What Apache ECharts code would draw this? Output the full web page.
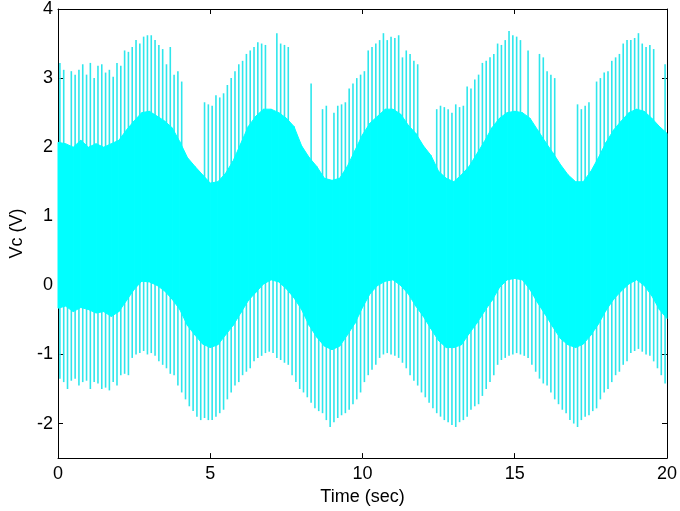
<!DOCTYPE html>
<html>
<head>
<meta charset="utf-8">
<script src="https://cdn.jsdelivr.net/npm/echarts@6/dist/echarts.min.js"></script>
<style>html,body{margin:0;padding:0;background:#fff}#c{width:680px;height:511px}</style>
</head>
<body>
<div id="c"></div>
<script>
// Dense oscillation band: upper/lower edges sampled every 0.25 s (t = 0 .. 20)
const bandStep = 0.25;
const bandHi = [2.07,2.05,2.00,2.10,2.00,2.05,2.00,2.05,2.10,2.25,2.38,2.50,2.52,2.45,2.38,2.28,
  2.08,1.85,1.72,1.60,1.48,1.50,1.62,1.80,2.05,2.30,2.45,2.55,2.55,2.50,2.42,2.30,
  2.02,1.85,1.72,1.55,1.52,1.55,1.72,1.95,2.18,2.35,2.45,2.55,2.55,2.48,2.32,2.20,
  2.02,1.88,1.65,1.55,1.50,1.60,1.72,1.90,2.08,2.28,2.42,2.50,2.52,2.50,2.42,2.25,
  2.08,1.92,1.75,1.60,1.50,1.50,1.65,1.85,2.07,2.25,2.38,2.50,2.55,2.52,2.42,2.30,2.20];
const bandLo = [-0.33,-0.30,-0.38,-0.32,-0.35,-0.40,-0.38,-0.45,-0.38,-0.22,-0.06,0.06,0.05,0.00,-0.08,-0.20,
  -0.35,-0.58,-0.72,-0.85,-0.90,-0.86,-0.72,-0.58,-0.40,-0.22,-0.10,0.02,0.08,0.05,-0.05,-0.18,
  -0.35,-0.58,-0.75,-0.88,-0.93,-0.88,-0.72,-0.55,-0.32,-0.12,0.00,0.06,0.08,0.00,-0.12,-0.30,
  -0.45,-0.63,-0.80,-0.90,-0.90,-0.86,-0.70,-0.55,-0.38,-0.22,-0.03,0.08,0.10,0.08,-0.06,-0.25,
  -0.42,-0.60,-0.77,-0.86,-0.90,-0.85,-0.72,-0.56,-0.36,-0.20,-0.08,0.02,0.08,0.00,-0.15,-0.35,-0.48];

// Spikes: one slot every 1/8 s (centre of slot), null = no spike in that slot
const spikeSlotsPerSec = 8;
const upperSpikes = [
  3.22,3.12,null,3.10,3.05,3.12,3.20,3.05,
  3.22,3.00,3.18,3.20,3.08,3.12,3.02,3.22,
  3.18,3.40,3.38,3.45,3.55,3.50,3.60,3.62,
  3.62,3.55,3.48,3.42,3.20,3.45,3.05,3.10,
  2.95,null,null,null,null,null,2.65,2.62,
  2.60,2.75,2.72,2.78,2.90,3.00,3.10,3.20,
  3.25,3.35,3.40,3.45,3.52,3.50,3.48,null,
  null,3.65,3.50,3.48,3.45,null,null,null,
  null,null,2.92,null,null,2.55,2.60,null,
  2.50,2.60,2.62,2.65,2.85,2.92,3.00,3.05,
  3.10,3.40,3.45,3.50,3.55,3.65,3.55,3.60,
  3.58,3.62,3.30,3.40,3.35,3.25,3.20,null,
  null,null,null,2.55,2.60,2.58,2.55,2.50,
  2.62,2.58,2.60,2.88,2.85,2.98,3.05,3.22,
  3.25,3.30,3.35,3.50,3.48,3.55,3.68,3.62,
  3.60,3.55,null,3.40,null,null,3.35,3.30,
  3.10,3.05,3.00,null,null,null,null,null,
  2.62,2.55,2.60,2.65,null,2.95,3.00,3.08,
  3.10,3.25,3.30,3.35,3.50,3.55,3.55,3.58,
  3.65,3.50,3.45,3.48,3.42,null,null,3.20];
const lowerSpikes = [
  -1.35,-1.40,-1.50,-1.38,-1.35,-1.45,-1.40,-1.38,
  -1.50,-1.40,-1.42,-1.50,-1.48,-1.52,-1.40,-1.45,
  -1.30,-1.28,-1.30,-1.05,-1.00,-0.98,-0.95,-1.00,
  -0.98,-1.02,-1.10,-1.15,-1.20,-1.28,-1.30,-1.45,
  -1.55,-1.65,-1.75,-1.82,-1.90,-1.95,-1.92,-1.95,
  -1.95,-1.90,-1.85,-1.80,-1.65,-1.55,-1.45,-1.40,
  -1.30,-1.25,-1.20,-1.10,-1.05,-1.02,-0.98,-0.96,
  -0.98,-1.05,-1.08,-1.12,-1.15,-1.30,-1.40,-1.50,
  -1.55,-1.62,-1.70,-1.78,-1.82,-1.85,-1.95,-2.05,
  -1.98,-1.92,-1.88,-1.85,-1.80,-1.72,-1.65,-1.55,
  -1.40,-1.30,-1.22,-1.15,-1.05,-1.00,-0.98,-1.00,
  -1.02,-1.05,-1.12,-1.20,-1.30,-1.38,-1.45,-1.55,
  -1.62,-1.70,-1.78,-1.85,-1.90,-1.95,-1.98,-2.02,
  -2.05,-1.98,-1.95,-1.90,-1.80,-1.75,-1.72,-1.60,
  -1.50,-1.40,-1.30,-1.15,-1.08,-1.05,-1.02,-1.00,
  -0.98,-1.00,-1.02,-1.05,-1.15,-1.25,-1.35,-1.42,
  -1.45,-1.55,-1.65,-1.72,-1.80,-1.85,-1.95,-2.00,
  -2.05,-1.95,-1.90,-1.88,-1.82,-1.78,-1.65,-1.55,
  -1.50,-1.40,-1.30,-1.25,-1.15,-1.10,-0.98,-0.95,
  -0.92,-0.96,-1.00,-1.02,-1.10,-1.20,-1.30,-1.42];

const xTicks = [0, 5, 10, 15, 20];
const yTicks = [-2, -1, 0, 1, 2, 3, 4];
const xName = 'Time (sec)';
const yName = 'Vc (V)';

// ---- build data for the library ----
const bandData = [];
for (let i = 0; i < bandHi.length - 1; i++) {
  bandData.push([i * bandStep, bandLo[i], bandHi[i], (i + 1) * bandStep, bandLo[i + 1], bandHi[i + 1]]);
}
const spikeData = [];
upperSpikes.forEach((v, i) => { if (v !== null) spikeData.push([(i + 0.5) / spikeSlotsPerSec, v]); });
lowerSpikes.forEach((v, i) => { if (v !== null) spikeData.push([(i + 0.5) / spikeSlotsPerSec, v]); });

const CYAN = '#00ffff';
const SPIKE_BASE = 0.8;
const font = 'Liberation Sans, Arial, Helvetica, sans-serif';

function bandItem(params, api) {
  const p = [
    api.coord([api.value(0), api.value(1)]),
    api.coord([api.value(3), api.value(4)]),
    api.coord([api.value(3), api.value(5)]),
    api.coord([api.value(0), api.value(2)])
  ];
  return { type: 'polygon', shape: { points: p }, style: { fill: CYAN, stroke: CYAN, lineWidth: 1 } };
}
function spikeItem(params, api) {
  const a = api.coord([api.value(0), SPIKE_BASE]);
  const b = api.coord([api.value(0), api.value(1)]);
  return { type: 'line', shape: { x1: a[0], y1: a[1], x2: b[0], y2: b[1] },
           style: { stroke: '#2ee6ec', lineWidth: 1.6 } };
}

const axisCommonX = {
  type: 'value', min: 0, max: 20, interval: 5,
  axisLine: { show: true, onZero: false, lineStyle: { color: '#000', width: 1 } },
  axisTick: { show: true, inside: true, length: 5, lineStyle: { color: '#000' } },
  splitLine: { show: false }
};
const axisCommonY = {
  type: 'value', min: -2.5, max: 4,
  axisLine: { show: true, onZero: false, lineStyle: { color: '#000', width: 1 } },
  axisTick: { show: true, inside: true, length: 5, lineStyle: { color: '#000' }, customValues: yTicks },
  splitLine: { show: false }
};

const chart = echarts.init(document.getElementById('c'), null, { renderer: 'canvas' });
chart.setOption({
  backgroundColor: '#fff',
  animation: false,
  grid: { left: 57, right: 13, top: 6, bottom: 45 },
  xAxis: [
    Object.assign({}, axisCommonX, {
      position: 'bottom',
      axisLabel: { color: '#000', fontSize: 18, fontFamily: font, margin: 7, customValues: xTicks },
      axisTick: { show: true, inside: true, length: 5, lineStyle: { color: '#000' }, customValues: xTicks },
      name: xName, nameLocation: 'middle', nameGap: 28,
      nameTextStyle: { color: '#000', fontSize: 18, fontFamily: font }
    }),
    Object.assign({}, axisCommonX, {
      position: 'top', axisLabel: { show: false },
      axisTick: { show: true, inside: true, length: 5, lineStyle: { color: '#000' }, customValues: xTicks }
    })
  ],
  yAxis: [
    Object.assign({}, axisCommonY, {
      position: 'left',
      axisLabel: { color: '#000', fontSize: 18, fontFamily: font, margin: 5, customValues: yTicks },
      name: yName, nameLocation: 'middle', nameGap: 32,
      nameTextStyle: { color: '#000', fontSize: 18, fontFamily: font }
    }),
    Object.assign({}, axisCommonY, { position: 'right', axisLabel: { show: false } })
  ],
  series: [
    {
      type: 'custom', renderItem: spikeItem, data: spikeData, silent: true,
      encode: { x: 0, y: 1 }, z: 2
    },
    {
      type: 'custom', renderItem: bandItem, data: bandData, silent: true,
      encode: { x: [0, 3], y: [1, 2, 4, 5] }, z: 3
    }
  ]
});
</script>
</body>
</html>
